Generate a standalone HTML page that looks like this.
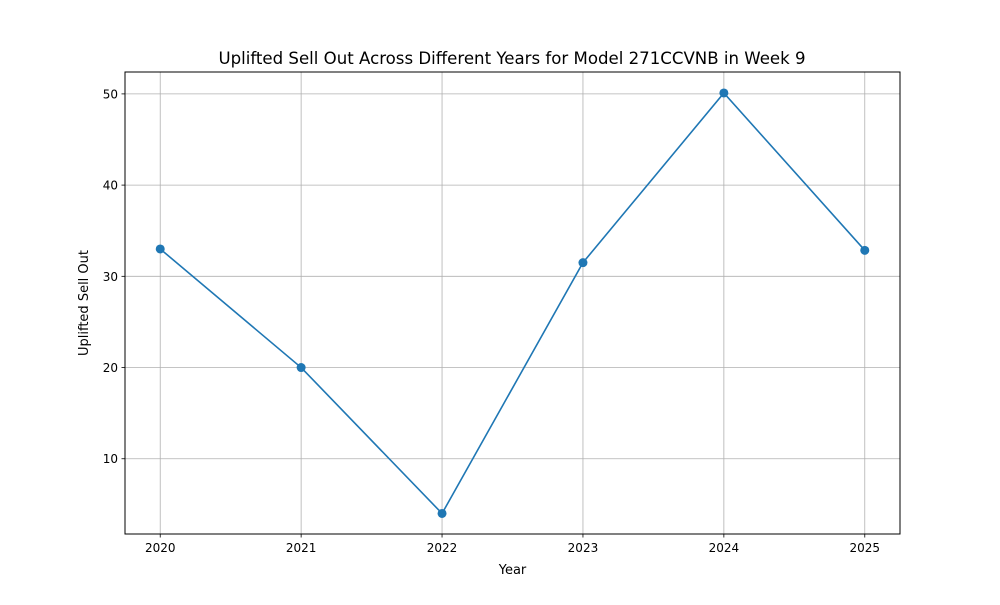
<!DOCTYPE html>
<html><head><meta charset="utf-8">
<style>
html,body{margin:0;padding:0;background:#fff;}
svg text{font-family:"DejaVu Sans","Liberation Sans",sans-serif;fill:#000;}
</style></head>
<body>
<svg id="chart" width="1000" height="600" xmlns="http://www.w3.org/2000/svg">
<rect width="1000" height="600" fill="#fff"/>
<text x="512" y="64" font-size="16.6" text-anchor="middle">Uplifted Sell Out Across Different Years for Model 271CCVNB in Week 9</text>
<g id="grid"></g>
<g id="ticks"></g>
<g id="series"></g>
<rect x="125" y="72" width="775" height="462" fill="none" stroke="#000" stroke-width="1"/>
<text x="512.5" y="574" font-size="13" text-anchor="middle">Year</text>
<text transform="translate(88,303) rotate(-90)" font-size="13" text-anchor="middle">Uplifted Sell Out</text>
</svg>
<script>
const years = [2020, 2021, 2022, 2023, 2024, 2025];
const values = [33, 20, 4, 31.5, 50.1, 32.85];
const yTicks = [10, 20, 30, 40, 50];

const NS = "http://www.w3.org/2000/svg";
const L = 125, R = 900, T = 72, B = 534;
const yMin = 1.75, yMax = 52.4;
const xMin = 2019.75, xMax = 2025.25;
function xs(v){ return L + (v - xMin) / (xMax - xMin) * (R - L); }
function ys(v){ return B - (v - yMin) / (yMax - yMin) * (B - T); }
function mk(tag, attrs, parent){
  const e = document.createElementNS(NS, tag);
  for (const k in attrs) e.setAttribute(k, attrs[k]);
  parent.appendChild(e); return e;
}
const grid = document.getElementById('grid');
const ticks = document.getElementById('ticks');
const series = document.getElementById('series');

years.forEach(yr => {
  const x = xs(yr);
  const g = mk('line', {x1:x, x2:x, y1:T, y2:B, stroke:'#b0b0b0', 'stroke-width':0.8}, grid);
  
  
  const t = mk('line', {x1:x, x2:x, y1:B, y2:B+3.5, stroke:'#000', 'stroke-width':0.8}, ticks);
  
  
  const lb = mk('text', {x:x, y:B+18, 'font-size':12, 'text-anchor':'middle'}, ticks);
  lb.textContent = yr;
  
  
});
yTicks.forEach(v => {
  const y = ys(v);
  const g = mk('line', {x1:L, x2:R, y1:y, y2:y, stroke:'#b0b0b0', 'stroke-width':0.8}, grid);
  
  
  const t = mk('line', {x1:L-3.5, x2:L, y1:y, y2:y, stroke:'#000', 'stroke-width':0.8}, ticks);
  
  
  const lb = mk('text', {x:L-7, y:y+4.5, 'font-size':12, 'text-anchor':'end'}, ticks);
  lb.textContent = v;
  
  
});
const pts = years.map((yr, i) => xs(yr) + ',' + ys(values[i])).join(' ');
const pl = mk('polyline', {points:pts, fill:'none', stroke:'#1f77b4', 'stroke-width':1.6}, series);


years.forEach((yr, i) => {
  const c = mk('circle', {cx:xs(yr), cy:ys(values[i]), r:4.5, fill:'#1f77b4'}, series);
  
  
});
</script>
</body></html>
